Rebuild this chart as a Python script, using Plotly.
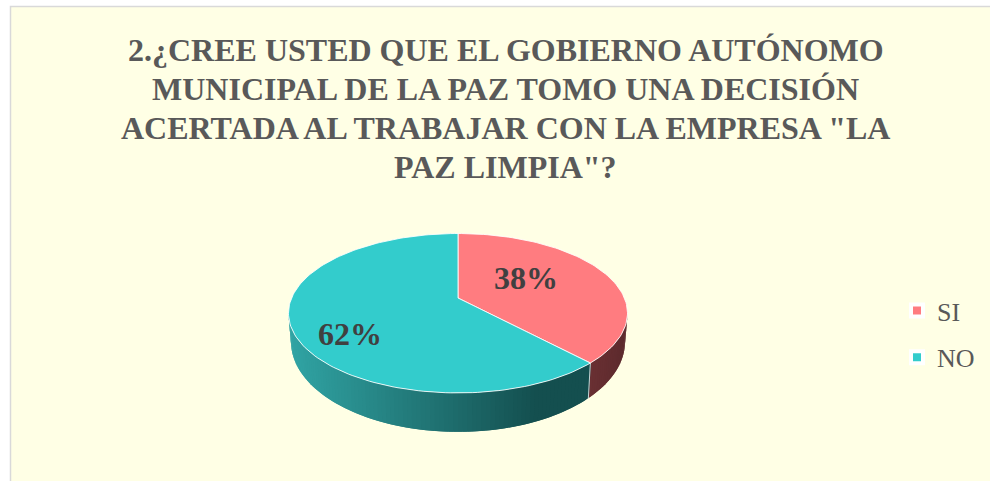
import math
import plotly.graph_objects as go

categories = ["SI", "NO"]
values = [38, 62]
title_lines = [
    "2.¿CREE USTED QUE EL GOBIERNO AUTÓNOMO",
    "MUNICIPAL DE LA PAZ TOMO UNA DECISIÓN",
    'ACERTADA AL TRABAJAR CON LA EMPRESA "LA',
    'PAZ LIMPIA"?',
]
top_colors = ["#FF7C80", "#33CCCC"]
wall_colors = [((0x6A, 0x30, 0x33), (0x5C, 0x2A, 0x2D)), ((0x30, 0xA3, 0xA3), (0x14, 0x4F, 0x4F))]

# projection of the pie disc (layout only, page pixel frame)
CX, CY, BX, AY, K = 458.0, 298.0, 166.4, 76.8, 0.191
DEPTH, SHRINK_X, SHRINK_Y = 26.6, 0.985, 1.13
WALL_START, WALL_END = 101.0, 259.0
GRAD_X0, GRAD_X1 = 292.0, 537.0


def rim(theta, sx=1.0, sy=1.0, dy=0.0):
    a = math.radians(theta)
    u, v = math.sin(a), math.cos(a)
    w = 1 + K * v
    return CX + sx * BX * u / w, CY + dy - sy * AY * v / w


def low(theta):
    return rim(theta, SHRINK_X, SHRINK_Y, DEPTH)


def hexc(c):
    return "#%02X%02X%02X" % tuple(int(round(x)) for x in c)


fig = go.Figure()
total = sum(values)
bounds = [0.0]
for val in values:
    bounds.append(bounds[-1] + 360.0 * val / total)

# side wall: overlapping strips painted right to left
N = 120
step = (WALL_END - WALL_START) / N
for i in range(N):
    t0 = WALL_START + step * i
    t1 = min(WALL_END, t0 + 2 * step)
    mid = t0 + step / 2
    idx = 0 if mid < bounds[1] else 1
    if idx == 0:
        t1 = min(t1, bounds[1])
    pts = [rim(t0), rim(t1), low(t1), low(t0)]
    xm = rim(mid)[0]
    if idx == 1:
        f = min(1, max(0, (xm - GRAD_X0) / (GRAD_X1 - GRAD_X0)))
    else:
        f = min(1, max(0, (xm - 590) / 37))
    c = hexc([a + (b - a) * f for a, b in zip(*wall_colors[idx])])
    fig.add_trace(go.Scatter(
        x=[p[0] for p in pts] + [pts[0][0]], y=[p[1] for p in pts] + [pts[0][1]],
        mode="lines", fill="toself", fillcolor=c, line=dict(color=c, width=0),
        hoverinfo="skip", showlegend=False))

# wall seam between slices
a, b = rim(bounds[1]), low(bounds[1])
fig.add_trace(go.Scatter(x=[a[0], b[0]], y=[a[1], b[1]], mode="lines",
                         line=dict(color="rgba(255,255,255,0.75)", width=1),
                         hoverinfo="skip", showlegend=False))

# top faces
for i, cat in enumerate(categories):
    a0, a1 = bounds[i], bounds[i + 1]
    n = max(4, int((a1 - a0) / 1.5))
    arc = [rim(a0 + (a1 - a0) * j / n) for j in range(n + 1)]
    xs = [CX] + [p[0] for p in arc] + [CX]
    ys = [CY] + [p[1] for p in arc] + [CY]
    fig.add_trace(go.Scatter(
        x=xs, y=ys, mode="lines", fill="toself", fillcolor=top_colors[i],
        line=dict(color="rgba(255,255,255,0.85)", width=1),
        name=cat, text=f"{cat}: {values[i]}%", hoverinfo="text", showlegend=False))

# legend entries
for i, cat in enumerate(categories):
    fig.add_trace(go.Scatter(
        x=[None], y=[None], mode="markers", name=cat, legendgroup=cat,
        marker=dict(symbol="square", size=12, color=top_colors[i], line=dict(color="white", width=4))))

annotations = []
for k, line in enumerate(title_lines):
    annotations.append(dict(x=505.5, y=50 + k * 39.1, xref="x", yref="y", text=f"<b>{line}</b>", showarrow=False,
                            xanchor="center", yanchor="middle",
                            font=dict(family="Liberation Serif", size=32, color="#595959")))
label_pos = [(526, 277.5), (350, 334)]
for val, (lx, ly) in zip(values, label_pos):
    annotations.append(dict(x=lx, y=ly, xref="x", yref="y", text=f"<b>{val}%</b>", showarrow=False,
                            xanchor="center", yanchor="middle",
                            font=dict(family="Liberation Serif", size=32, color="#404040")))

W, H = 990, 481
fig.update_layout(
    width=W, height=H, autosize=False,
    margin=dict(l=0, r=0, t=0, b=0),
    paper_bgcolor="white", plot_bgcolor="white",
    xaxis=dict(range=[0, W], visible=False, fixedrange=True),
    yaxis=dict(range=[H, 0], visible=False, fixedrange=True),
    shapes=[dict(type="rect", xref="x", yref="y", x0=10.5, y0=6.5, x1=1000, y1=500,
                 fillcolor="#FFFFE5", line=dict(color="#D9D9D9", width=1.5), layer="below")],
    annotations=annotations,
    legend=dict(x=897 / W, y=1 - 287 / H, xanchor="left", yanchor="top",
                bgcolor="rgba(0,0,0,0)", tracegroupgap=10,
                font=dict(family="Liberation Serif", size=26, color="#595959")),
    showlegend=True,
)
fig.write_html("out.html", config={"displayModeBar": False},
               post_script="document.body.style.margin='0';document.documentElement.style.overflow='hidden';")
